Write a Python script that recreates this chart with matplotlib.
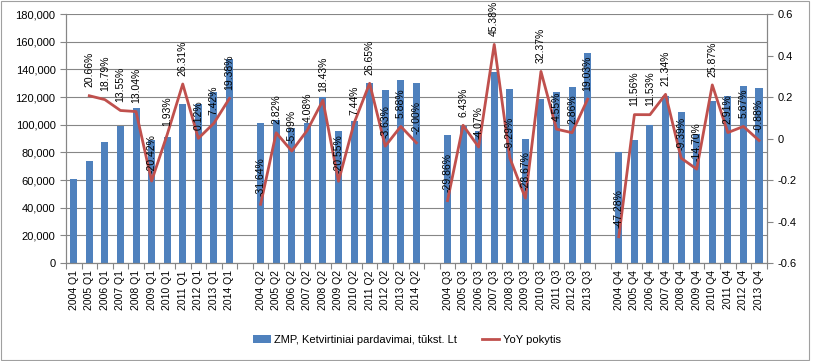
import numpy as np
import matplotlib
matplotlib.use('Agg')
import matplotlib.pyplot as plt
from matplotlib.patches import Rectangle

plt.rcParams['font.family'] = ['Liberation Sans', 'DejaVu Sans']
plt.rcParams['axes.unicode_minus'] = False

years_a = [str(y) for y in range(2004, 2015)]   # Q1, Q2
years_b = [str(y) for y in range(2004, 2014)]   # Q3, Q4

# ZMP, ketvirtiniai pardavimai (tukst. Lt)
sales_q1 = [61000, 73600, 87400, 99300, 112200, 89300, 91000, 115000, 115100, 123700, 147600]
sales_q2 = [101000, 103800, 97600, 101600, 120300, 95600, 102700, 130100, 125400, 132700, 130100]
sales_q3 = [92500, 99000, 95200, 138400, 125500, 89600, 118600, 124000, 127500, 151700]
sales_q4 = [80000, 89200, 99500, 120800, 109400, 93400, 117500, 120900, 128000, 126900]

# YoY pokytis, %
yoy_q1 = [None, 20.66, 18.79, 13.55, 13.04, -20.42, 1.93, 26.31, 0.12, 7.42, 19.38]
yoy_q2 = [-31.64, 2.82, -5.99, 4.08, 18.43, -20.55, 7.44, 26.65, -3.63, 5.88, -2.00]
yoy_q3 = [-29.86, 6.43, -4.07, 45.38, -9.29, -28.67, 32.37, 4.55, 2.86, 19.03]
yoy_q4 = [-47.28, 11.56, 11.53, 21.34, -9.39, -14.70, 25.87, 2.91, 5.87, -0.88]

# sujungiam grupes su tarpais tarp ketvirciu
labels, sales, yoy = [], [], []
groups = [(years_a, 'Q1', sales_q1, yoy_q1), (years_a, 'Q2', sales_q2, yoy_q2),
          (years_b, 'Q3', sales_q3, yoy_q3), (years_b, 'Q4', sales_q4, yoy_q4)]
for i, (yrs, q, s, y) in enumerate(groups):
    if i > 0:
        labels.append('')
        sales.append(np.nan)
        yoy.append(np.nan)
    labels += [f'{yr} {q}' for yr in yrs]
    sales += s
    yoy += [np.nan if v is None else v for v in y]

x = np.arange(len(labels))
sales = np.array(sales, dtype=float)
yoy = np.array(yoy, dtype=float)

blue = '#4F81BD'
red = '#C0504D'
axcol = '#868686'

fig = plt.figure(figsize=(8.14, 3.61), dpi=100)
ax = fig.add_axes([0.081, 0.271, 0.861, 0.690])

bars = ax.bar(x, sales, width=0.45, color=blue, zorder=2,
              label='ZMP, Ketvirtiniai pardavimai, tūkst. Lt')
ax.set_ylim(0, 180000)
ax.set_yticks(np.arange(0, 180001, 20000))
ax.yaxis.set_major_formatter(matplotlib.ticker.FuncFormatter(lambda v, p: f'{v:,.0f}'))
ax.grid(axis='y', color=axcol, linewidth=0.8)
ax.set_axisbelow(True)
ax.set_xlim(-0.5, len(labels) - 0.5)

# ticks between categories, labels at centers
ax.set_xticks(np.arange(-0.5, len(labels), 1.0))
ax.set_xticklabels([])
ax.set_xticks(x, minor=True)
ax.set_xticklabels(labels, minor=True, rotation=90, fontsize=7.5)
ax.tick_params(axis='x', which='major', length=4, color=axcol)
ax.tick_params(axis='x', which='minor', length=0, pad=5)
ax.tick_params(axis='y', length=4, color=axcol, labelsize=8)

ax.spines['top'].set_visible(False)
for s in ['left', 'bottom', 'right']:
    ax.spines[s].set_color(axcol)

ax2 = ax.twinx()
line, = ax2.plot(x, yoy / 100, color=red, linewidth=2, label='YoY pokytis', zorder=3)
ax2.set_ylim(-0.6, 0.6)
ax2.set_yticks(np.arange(-0.6, 0.61, 0.2))
ax2.yaxis.set_major_formatter(matplotlib.ticker.FuncFormatter(
    lambda v, p: '0' if abs(v) < 1e-9 else f'{v:.1f}'))
ax2.tick_params(axis='y', length=4, color=axcol, labelsize=8)
ax2.spines['top'].set_visible(False)
for s in ['left', 'bottom', 'right']:
    ax2.spines[s].set_color(axcol)

for xi, v in zip(x, yoy):
    if np.isnan(v):
        continue
    ax2.annotate(f'{v:.2f}%', (xi, v / 100), xytext=(0, 6), textcoords='offset points',
                 rotation=90, ha='center', va='bottom', fontsize=7.5, color='black', zorder=5)

fig.legend(handles=[bars, line], loc='center', bbox_to_anchor=(0.5, 0.058), ncol=2,
           frameon=False, fontsize=8, handlelength=1.6, handletextpad=0.3,
           columnspacing=2.2)

fig.patches.append(Rectangle((0.001, 0.003), 0.993, 0.995, transform=fig.transFigure,
                             fill=False, edgecolor='#a0a0a0', linewidth=0.8))

fig.savefig('out.png', dpi=100)
